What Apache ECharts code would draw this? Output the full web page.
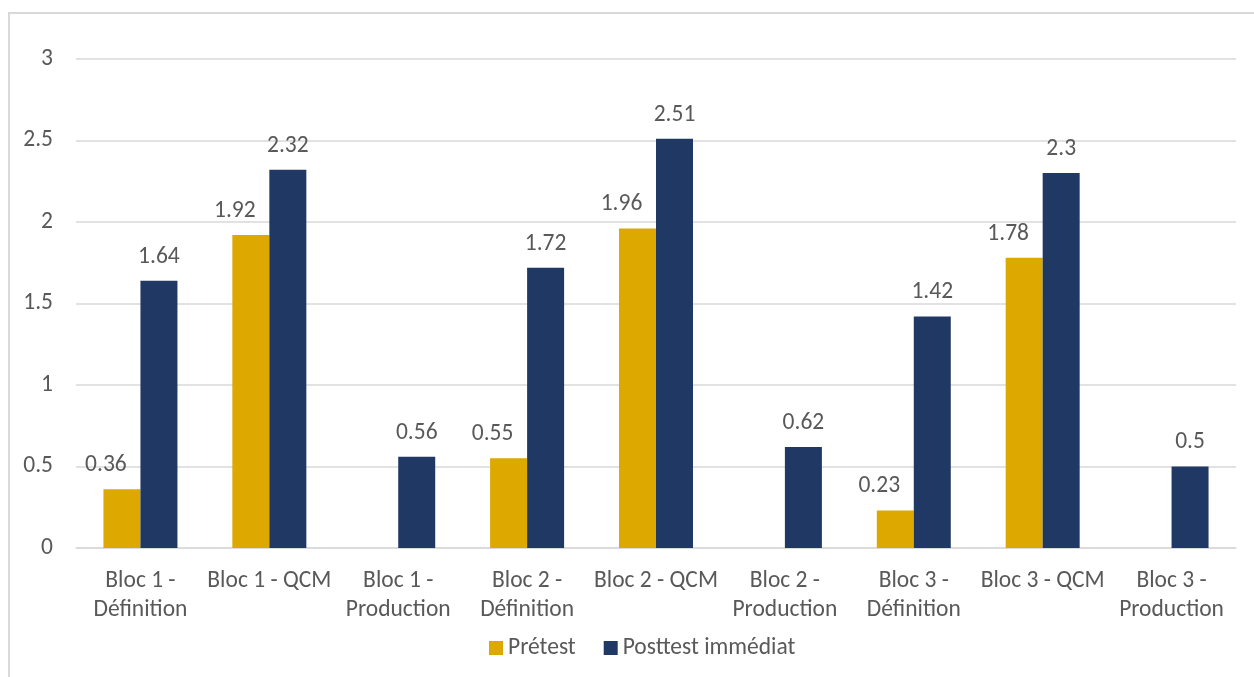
<!DOCTYPE html>
<html>
<head>
<meta charset="utf-8">
<script src="https://cdn.jsdelivr.net/npm/echarts@6/dist/echarts.min.js"></script>
<style>
  html, body { margin: 0; padding: 0; background: #fff; }
  #chart { width: 1254px; height: 677px; }
</style>
</head>
<body>
<div id="chart"></div>
<script>
const categories = [
  'Bloc 1 -\nDéfinition', 'Bloc 1 - QCM', 'Bloc 1 -\nProduction',
  'Bloc 2 -\nDéfinition', 'Bloc 2 - QCM', 'Bloc 2 -\nProduction',
  'Bloc 3 -\nDéfinition', 'Bloc 3 - QCM', 'Bloc 3 -\nProduction'
]
const pretest = [0.36, 1.92, null, 0.55, 1.96, null, 0.23, 1.78, null]
const posttest = [1.64, 2.32, 0.56, 1.72, 2.51, 0.62, 1.42, 2.3, 0.5]
const seriesNames = ['Prétest', 'Posttest immédiat']

const font = 'Carlito, "Open Sans", "Liberation Sans", sans-serif'
const textColor = '#595959'
const fs = 23.5

const chart = echarts.init(document.getElementById('chart'))
chart.setOption({
  animation: false,
  textStyle: { fontFamily: font },
  graphic: [{
    type: 'rect',
    shape: { x: 9, y: 13, width: 1300, height: 700 },
    style: { fill: 'none', stroke: '#d9d9d9', lineWidth: 2 }
  }],
  grid: { left: 76, right: 18, top: 59, bottom: 129 },
  legend: {
    bottom: 12,
    left: 484,
    itemWidth: 14,
    itemHeight: 14,
    itemGap: 28,
    icon: 'rect',
    textStyle: { fontSize: fs, color: textColor, fontFamily: font },
    data: seriesNames
  },
  xAxis: {
    type: 'category',
    data: categories,
    axisLine: { lineStyle: { color: '#d9d9d9', width: 1.5 } },
    axisTick: { show: false },
    axisLabel: {
      color: textColor, fontSize: fs, lineHeight: 29, margin: 19, interval: 0
    }
  },
  yAxis: {
    type: 'value',
    min: 0, max: 3, interval: 0.5,
    axisLine: { show: false },
    axisTick: { show: false },
    splitLine: { lineStyle: { color: '#d9d9d9', width: 1.5 } },
    axisLabel: { color: textColor, fontSize: fs, margin: 23 }
  },
  series: [
    {
      name: seriesNames[0],
      type: 'bar',
      data: pretest,
      barWidth: 37,
      barGap: '0%',
      itemStyle: { color: '#DDA800' },
      label: {
        show: true, position: 'top', distance: 12, offset: [-16, 0],
        color: textColor, fontSize: fs, fontFamily: font
      }
    },
    {
      name: seriesNames[1],
      type: 'bar',
      data: posttest,
      barWidth: 37,
      barGap: '0%',
      itemStyle: { color: '#203864' },
      label: {
        show: true, position: 'top', distance: 12,
        color: textColor, fontSize: fs, fontFamily: font
      }
    }
  ]
})
</script>
</body>
</html>
